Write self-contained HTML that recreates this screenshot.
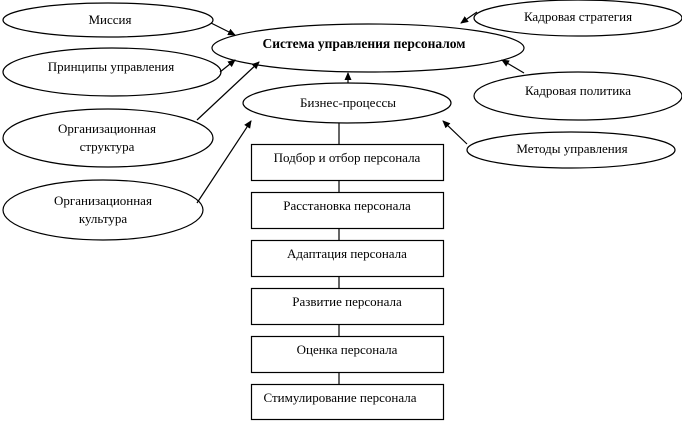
<!DOCTYPE html>
<html><head><meta charset="utf-8"><style>
html,body{margin:0;padding:0;background:#fff}
svg{display:block}
text{font-family:"Liberation Serif",serif;font-size:13px;fill:#000}
</style></head><body>
<svg width="682" height="432" viewBox="0 0 682 432" xmlns="http://www.w3.org/2000/svg">
<defs><marker id="a" markerWidth="8" markerHeight="8" refX="7" refY="4" orient="auto" markerUnits="userSpaceOnUse"><path d="M0,0.5 L8,4 L0,7.5 z" fill="#000"/></marker></defs>
<g fill="#fff" stroke="#000" stroke-width="1.2">
<ellipse cx="108" cy="20" rx="105" ry="17"/>
<ellipse cx="112" cy="72" rx="109" ry="24"/>
<ellipse cx="108" cy="138" rx="105" ry="29"/>
<ellipse cx="103" cy="210" rx="100" ry="30"/>
<ellipse cx="578" cy="18" rx="104" ry="18"/>
<ellipse cx="578" cy="96" rx="104" ry="24"/>
<ellipse cx="571" cy="150" rx="104" ry="18"/>
<ellipse cx="368" cy="48" rx="156" ry="24"/>
<ellipse cx="347" cy="103" rx="104" ry="20"/>
</g>
<g stroke="#000" stroke-width="1.2">
<line x1="339" y1="123" x2="339" y2="420"/>
</g>
<g fill="#fff" stroke="#000" stroke-width="1.2">
<rect x="251.5" y="144.5" width="192" height="36"/>
<rect x="251.5" y="192.5" width="192" height="36"/>
<rect x="251.5" y="240.5" width="192" height="36"/>
<rect x="251.5" y="288.5" width="192" height="36"/>
<rect x="251.5" y="336.5" width="192" height="36"/>
<rect x="251.5" y="384.5" width="192" height="35"/>
</g>
<g stroke="#000" stroke-width="1.2" marker-end="url(#a)">
<line x1="211" y1="23" x2="235" y2="35"/>
<line x1="477" y1="12" x2="461" y2="23"/>
<line x1="220" y1="72" x2="235" y2="60"/>
<line x1="197" y1="120" x2="259" y2="62"/>
<line x1="524" y1="73" x2="502" y2="60"/>
<line x1="348" y1="83" x2="348" y2="73"/>
<line x1="197" y1="203" x2="251" y2="121"/>
<line x1="467" y1="144" x2="443" y2="121"/>
</g>
<g text-anchor="middle">
<text x="110" y="24">Миссия</text>
<text x="578" y="21">Кадровая стратегия</text>
<text x="364" y="48" font-weight="bold" style="font-size:13.5px">Система управления персоналом</text>
<text x="111" y="71">Принципы управления</text>
<text x="578" y="95">Кадровая политика</text>
<text x="348" y="107">Бизнес-процессы</text>
<text x="107" y="133">Организационная</text>
<text x="107" y="151">структура</text>
<text x="572" y="153">Методы управления</text>
<text x="103" y="205">Организационная</text>
<text x="103" y="223">культура</text>
<text x="347" y="162">Подбор и отбор персонала</text>
<text x="347" y="210">Расстановка персонала</text>
<text x="347" y="258">Адаптация персонала</text>
<text x="347" y="306">Развитие персонала</text>
<text x="347" y="354">Оценка персонала</text>
<text x="340" y="402">Стимулирование персонала</text>
</g>
</svg>
</body></html>
